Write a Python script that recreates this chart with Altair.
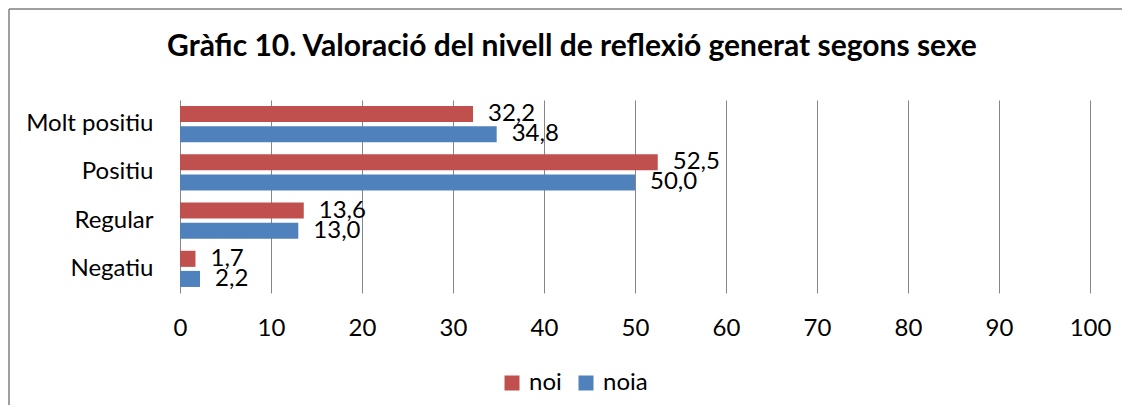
import altair as alt
import pandas as pd

categories = ["Molt positiu", "Positiu", "Regular", "Negatiu"]
series = ["noi", "noia"]
noi_values = [32.2, 52.5, 13.6, 1.7]
noia_values = [34.8, 50.0, 13.0, 2.2]
x_ticks = [0, 10, 20, 30, 40, 50, 60, 70, 80, 90, 100]
title_text = "Gràfic 10. Valoració del nivell de reflexió generat segons sexe"
colors = ["#C0504D", "#4F81BD"]

rows = []
for c, a, b in zip(categories, noi_values, noia_values):
    rows.append({"cat": c, "sexe": "noi", "val": a})
    rows.append({"cat": c, "sexe": "noia", "val": b})
df = pd.DataFrame(rows)
df["label"] = df["val"].map(lambda v: f"{v:.1f}".replace(".", ","))

FONT = "Lato"
FS = 24

y_enc = alt.Y("cat:N", sort=categories, title=None,
              scale=alt.Scale(paddingInner=0.25, paddingOuter=0.125),
              axis=alt.Axis(ticks=False, domain=False, labelFontSize=FS,
                            labelPadding=27, labelColor="#000", labelFont=FONT))
yoff = alt.YOffset("sexe:N", sort=series, scale=alt.Scale(paddingInner=0.2))
x_enc = alt.X("val:Q", title=None,
              scale=alt.Scale(domain=[0, 100], nice=False),
              axis=alt.Axis(values=x_ticks, grid=True, gridColor="#868686",
                            gridWidth=1, ticks=False, domain=False,
                            labelFlush=False,
                            labelFontSize=FS, labelPadding=23,
                            labelColor="#000", labelFont=FONT))

base = alt.Chart(df)
bars = base.mark_bar().encode(
    y=y_enc, yOffset=yoff, x=x_enc,
    color=alt.Color("sexe:N", sort=series,
                    scale=alt.Scale(domain=series, range=colors),
                    legend=alt.Legend(title=None, orient="none", direction="horizontal",
                                      legendX=320, legendY=271, symbolType="square",
                                      symbolSize=225, symbolStrokeWidth=0,
                                      labelFontSize=FS, labelFont=FONT,
                                      labelColor="#000", labelOffset=5,
                                      columnPadding=12, padding=0)),
)
labels = base.mark_text(align="left", baseline="middle", dx=15, fontSize=FS,
                        font=FONT, color="#000").encode(
    y=alt.Y("cat:N", sort=categories), yOffset=yoff, x="val:Q", text="label:N")

one = pd.DataFrame({"k": [0]})
frame_top = alt.Chart(one).mark_rule(color="#7f7f7f", strokeWidth=1.5).encode(
    x=alt.value(-171), x2=alt.value(2000), y=alt.value(-91))
frame_left = alt.Chart(one).mark_rule(color="#7f7f7f", strokeWidth=1.5).encode(
    x=alt.value(-171), y=alt.value(-91), y2=alt.value(600))

chart = alt.layer(frame_top, frame_left, bars, labels).properties(
    width=910, height=193,
    autosize=alt.AutoSizeParams(type="none"),
    padding={"left": 172, "top": 92, "right": 32, "bottom": 112},
    background="white",
    title=alt.TitleParams(title_text, font=FONT, fontSize=30, fontWeight="bold",
                          color="#000", anchor="middle", frame="group",
                          dx=-63, offset=-78, baseline="alphabetic"),
).configure_view(stroke=None)

chart.save("out.html", embed_options={"renderer": "svg", "actions": False})
